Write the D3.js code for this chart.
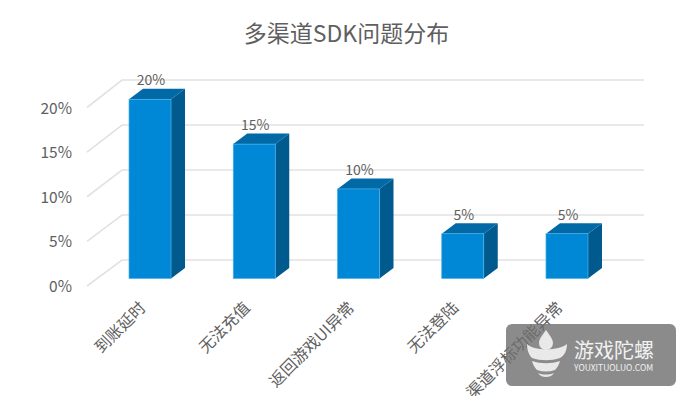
<!DOCTYPE html>
<html><head><meta charset="utf-8">
<style>html,body{margin:0;padding:0;background:#fff}svg{display:block}text{font-family:"Noto Sans CJK SC","Noto Sans",sans-serif}</style>
<script src="https://cdnjs.cloudflare.com/ajax/libs/d3/7.8.5/d3.min.js"></script>
</head><body><script>
const categories = ["到账延时","无法充值","返回游戏UI异常","无法登陆","渠道浮标功能异常"];
const values = [0.20,0.15,0.10,0.05,0.05];
const tickValues = [0,0.05,0.10,0.15,0.20];
const title = "多渠道SDK问题分布";
const wmName = "游戏陀螺", wmUrl = "YOUXITUOLUO.COM";

const W=691,H=396, depthX=14, depthY=10.5, wallX=35;
const svg=d3.select("body").append("svg").attr("width",W).attr("height",H);
const x=d3.scaleBand().domain(categories).range([87,630]).paddingInner(.597).paddingOuter(.403);
const yBar=d3.scaleLinear().domain([0,.2]).range([278.5,99.3]);
const yWall=d3.scaleLinear().domain([0,.2]).range([260,80]);
const yFloor=d3.scaleLinear().domain([0,.2]).range([286,107.5]);
const fmt=d3.format(".0%");

svg.append("text").attr("x",346.5).attr("y",41.5).attr("text-anchor","middle")
  .attr("font-size",23).attr("fill","#5f5f5f").text(title);

const grid=svg.append("g").attr("fill","none").attr("stroke","#e2e2e2").attr("stroke-width",1.6);
grid.selectAll("path").data(tickValues).join("path")
  .attr("d",d=>`M87,${yFloor(d)}L${87+wallX},${yWall(d)}H644`);

svg.append("g").selectAll("text").data(tickValues).join("text")
  .attr("x",72).attr("y",d=>yFloor(d)+6).attr("text-anchor","end")
  .attr("font-size",15.5).attr("fill","#5f5f5f").text(fmt);

const bars=svg.append("g").selectAll("g").data(categories).join("g");
const val=(c)=>values[categories.indexOf(c)];
bars.append("path").attr("fill","#005a8e")
  .attr("d",c=>{const r=x(c)+x.bandwidth(),t=yBar(val(c)),b=yBar(0);
    return `M${r},${t}l${depthX},${-depthY}V${b-depthY}L${r},${b}Z`;});
bars.append("path").attr("fill","#0069a6")
  .attr("d",c=>{const l=x(c),r=l+x.bandwidth(),t=yBar(val(c));
    return `M${l},${t}l${depthX},${-depthY}H${r+depthX}L${r},${t}Z`;});
bars.append("rect").attr("fill","#0088d6").attr("stroke","#4cb0e6").attr("stroke-width",.7)
  .attr("x",c=>x(c)).attr("width",x.bandwidth())
  .attr("y",c=>yBar(val(c))).attr("height",c=>yBar(0)-yBar(val(c)));
bars.append("text").attr("text-anchor","middle").attr("font-size",14).attr("fill","#5f5f5f")
  .attr("x",c=>x(c)+x.bandwidth()/2+1).attr("y",c=>yWall(val(c))+5).text(c=>fmt(val(c)));

svg.append("g").selectAll("text").data(categories).join("text")
  .attr("text-anchor","end").attr("font-size",16).attr("fill","#5f5f5f")
  .attr("transform",c=>`translate(${x(c)+x.bandwidth()/2-10},${302}) rotate(-45)`)
  .attr("dy","0.6em").text(c=>c);

const wm=svg.append("g");
wm.append("rect").attr("x",506).attr("y",324).attr("width",170).attr("height",62).attr("rx",6)
  .attr("fill","#6e6e6e").attr("fill-opacity",.8);
const logo=wm.append("g").attr("fill","#e9e9e9");
logo.append("path").attr("d","M546,330C550,336 553,339 553,343A7,7 0 0 1 539,343C539,339 542,336 546,330Z");
logo.append("path").attr("d","M527,344C533,351 559,351 567,344C567,351 564,356 560,358C551,361 541,361 532,358C529,355 527,350 527,344Z");
logo.append("path").attr("d","M532,361C541,364 551,364 560,361C559,365 557,368 555,370C549,372 543,372 537,370C535,368 533,365 532,361Z");
logo.append("path").attr("d","M538,373C543,375 549,375 554,373C552,376 549,377 546,377C543,377 540,376 538,373Z");
wm.append("text").attr("x",574).attr("y",358).attr("font-size",20).attr("fill","#f2f2f2").text(wmName);
wm.append("text").attr("x",574).attr("y",371).attr("font-size",8.5).attr("fill","#f2f2f2").text(wmUrl);
</script></body></html>
